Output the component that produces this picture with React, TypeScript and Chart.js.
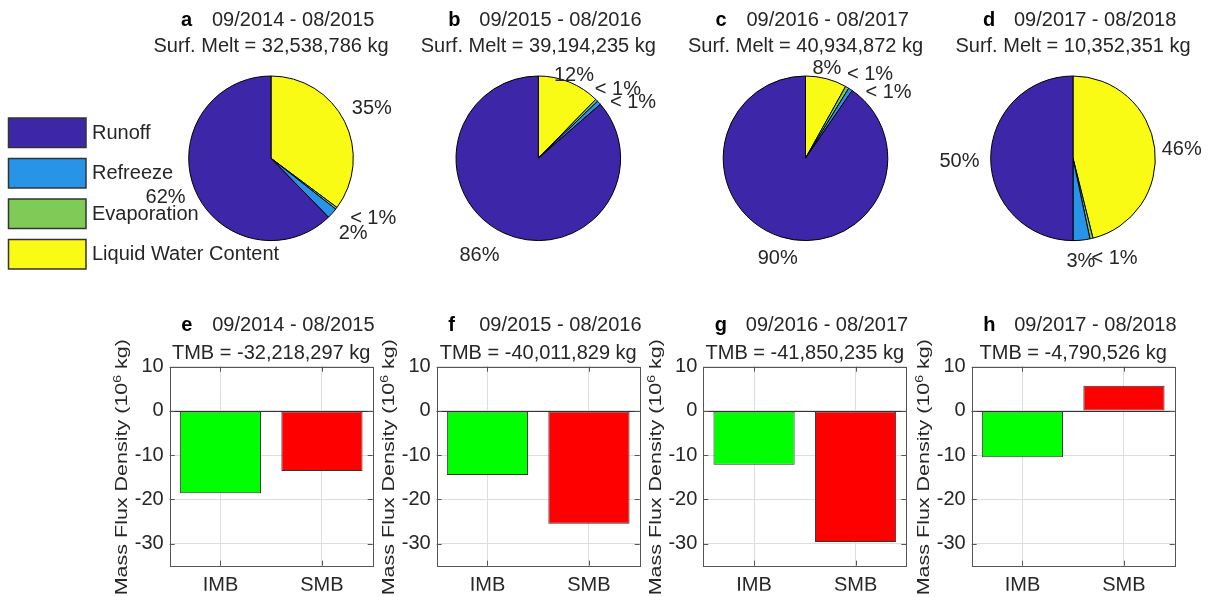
import React, { useEffect, useRef } from 'react';
import { Chart, registerables } from 'chart.js';

Chart.register(...registerables);

// ---------------- data ----------------
const periods = ['09/2014 - 08/2015', '09/2015 - 08/2016', '09/2016 - 08/2017', '09/2017 - 08/2018'];
const pieLetters = ['a', 'b', 'c', 'd'];
const barLetters = ['e', 'f', 'g', 'h'];
const pieCategories = ['Runoff', 'Refreeze', 'Evaporation', 'Liquid Water Content'];
const surfMelt = [32538786, 39194235, 40934872, 10352351];
const runoffPct = [62.3, 86.4, 90.4, 50.0];
const refreezePct = [2.1, 0.8, 0.8, 3.3];
const evaporationPct = [0.4, 0.5, 0.7, 0.6];
const lwcPct = [35.2, 12.3, 8.1, 46.1];
const barCategories = ['IMB', 'SMB'];
const imbValues = [-18.6, -14.5, -12.2, -10.5];
const smbValues = [-13.6, -25.5, -29.65, 5.7];
const tmbValues = [-32218297, -40011829, -41850235, -4790526];
const yMin = -35;
const yMax = 10;
const yStep = 10;

// ---------------- style / layout ----------------
const W = 1211;
const H = 597;
const FONT = '"Liberation Sans", Arial, Helvetica, sans-serif';
const TEXT = '#262626';
const GRID = '#dedede';
const AXIS = '#555555';
const pieColors: Record<string, string> = {
  Runoff: '#3E26A8',
  Refreeze: '#2894E8',
  Evaporation: '#80CB58',
  'Liquid Water Content': '#F9FB15',
};
const barColors = ['#00FF00', '#FF0000'];
const pieCx = [271, 538.3, 805.5, 1073];
const pieCy = 158.3;
const pieR = 82.3;
const barLeft = [169.7, 436.7, 703.3, 971.7];
const barWidth = 203;
const barTop = 366.7;
const barBottom = 565.7;
// label nudges per pie, in drawing order (LWC, Evaporation, Refreeze, Runoff)
const pieNudges = [
  [[2, -6], [12, 1], [4, 10], [-3, 2]],
  [[-6, 8], [-1, 0], [11, 10], [-13, 8]],
  [[-5, 5], [7, 0], [21, 16], [5, 7]],
  [[-1, 3], [16, 5], [-3, 6], [-3, 3]],
];

function drawTitle(ctx: CanvasRenderingContext2D, cx: number, y1: number, y2: number, letter: string, period: string, line2: string) {
  ctx.save();
  ctx.textBaseline = 'middle';
  ctx.textAlign = 'left';
  ctx.fillStyle = '#000';
  ctx.font = `bold 20px ${FONT}`;
  ctx.fillText(letter, cx - 90, y1);
  ctx.fillStyle = TEXT;
  ctx.font = `20px ${FONT}`;
  ctx.fillText(period, cx - 59, y1);
  ctx.textAlign = 'center';
  ctx.fillText(line2, cx, y2);
  ctx.restore();
}

const pieDecor = {
  id: 'pieDecor',
  afterDraw(chart: any, _args: any, opts: any) {
    const ctx: CanvasRenderingContext2D = chart.ctx;
    const meta = chart.getDatasetMeta(0);
    const data: number[] = chart.data.datasets[0].data;
    const total = data.reduce((a, b) => a + b, 0);
    ctx.save();
    ctx.font = `20px ${FONT}`;
    ctx.fillStyle = TEXT;
    ctx.textAlign = 'center';
    ctx.textBaseline = 'middle';
    meta.data.forEach((arc: any, i: number) => {
      const p = arc.getProps(['x', 'y', 'startAngle', 'endAngle', 'outerRadius'], true);
      const pct = (data[i] / total) * 100;
      const txt = pct < 1 ? '< 1%' : `${Math.round(pct)}%`;
      const mid = (p.startAngle + p.endAngle) / 2;
      const ux = Math.cos(mid);
      const uy = Math.sin(mid);
      const hw = ctx.measureText(txt).width / 2;
      const r = p.outerRadius * 1.1;
      const n = opts.nudges[i];
      ctx.fillText(txt, p.x + ux * (r + hw) + n[0], p.y + uy * r + uy * 7 + n[1]);
    });
    ctx.restore();
    drawTitle(ctx, opts.cx, 20, 46.5, opts.letter, opts.period, opts.line2);

    if (opts.legend) {
      const labels: string[] = chart.data.labels.slice().reverse();
      const colors: string[] = chart.data.datasets[0].backgroundColor.slice().reverse();
      ctx.save();
      ctx.font = `20px ${FONT}`;
      ctx.textBaseline = 'middle';
      ctx.textAlign = 'left';
      labels.forEach((lab, i) => {
        const top = 118 + i * 40.5;
        ctx.fillStyle = colors[i];
        ctx.fillRect(8.5, top, 77.5, 29.5);
        ctx.strokeStyle = '#333';
        ctx.lineWidth = 1.5;
        ctx.strokeRect(8.5, top, 77.5, 29.5);
        ctx.fillStyle = TEXT;
        ctx.fillText(lab, 92, top + 15);
      });
      ctx.restore();
    }
  },
};

const barDecor = {
  id: 'barDecor',
  beforeDatasetsDraw(chart: any) {
    const ctx: CanvasRenderingContext2D = chart.ctx;
    const { left, right } = chart.chartArea;
    const y0 = Math.round(chart.scales.y.getPixelForValue(0)) + 0.5;
    ctx.save();
    ctx.strokeStyle = '#333';
    ctx.lineWidth = 1;
    ctx.beginPath();
    ctx.moveTo(left, y0);
    ctx.lineTo(right, y0);
    ctx.stroke();
    ctx.restore();
  },
  afterDraw(chart: any, _args: any, opts: any) {
    const ctx: CanvasRenderingContext2D = chart.ctx;
    const { left, right, top, bottom } = chart.chartArea;
    const ys = chart.scales.y;
    const xs = chart.scales.x;
    ctx.save();
    ctx.strokeStyle = AXIS;
    ctx.lineWidth = 1;
    ctx.strokeRect(Math.round(left) + 0.5, Math.round(top) + 0.5, Math.round(right - left), Math.round(bottom - top));
    ctx.beginPath();
    ys.ticks.forEach((t: any) => {
      const py = Math.round(ys.getPixelForValue(t.value)) + 0.5;
      ctx.moveTo(left, py);
      ctx.lineTo(left + 5, py);
      ctx.moveTo(right - 5, py);
      ctx.lineTo(right, py);
    });
    xs.ticks.forEach((_t: any, i: number) => {
      const px = Math.round(xs.getPixelForValue(i)) + 0.5;
      ctx.moveTo(px, bottom);
      ctx.lineTo(px, bottom - 5);
      ctx.moveTo(px, top);
      ctx.lineTo(px, top + 5);
    });
    ctx.stroke();
    ctx.restore();

    const cx = (left + right) / 2;
    drawTitle(ctx, cx, 325, 353.3, opts.letter, opts.period, opts.line2);

    // y-axis title with superscript
    ctx.save();
    ctx.translate(left - 42.5, (top + bottom) / 2 + 1);
    ctx.rotate(-Math.PI / 2);
    ctx.scale(1, 0.77);
    const mainFont = `21.5px ${FONT}`;
    const supFont = `14px ${FONT}`;
    const p1 = 'Mass Flux Density (10';
    const p2 = '6';
    const p3 = ' kg)';
    ctx.font = mainFont;
    const w1 = ctx.measureText(p1).width;
    const w3 = ctx.measureText(p3).width;
    ctx.font = supFont;
    const w2 = ctx.measureText(p2).width;
    const x0 = -(w1 + w2 + w3) / 2;
    ctx.fillStyle = TEXT;
    ctx.textAlign = 'left';
    ctx.textBaseline = 'alphabetic';
    ctx.font = mainFont;
    ctx.fillText(p1, x0, 0);
    ctx.font = supFont;
    ctx.fillText(p2, x0 + w1, -8);
    ctx.font = mainFont;
    ctx.fillText(p3, x0 + w1 + w2, 0);
    ctx.restore();
  },
};

export default function App() {
  const refs = useRef<(HTMLCanvasElement | null)[]>([]);

  useEffect(() => {
    Chart.defaults.font.family = FONT;
    const charts: Chart[] = [];
    for (let i = 0; i < 4; i++) {
      const canvas = refs.current[i];
      if (!canvas) continue;
      const cx = pieCx[i];
      const order = [3, 2, 1, 0]; // clockwise from top: LWC, Evaporation, Refreeze, Runoff
      const values = [runoffPct[i], refreezePct[i], evaporationPct[i], lwcPct[i]];
      const labels = order.map((k) => pieCategories[k]);
      charts.push(
        new Chart(canvas, {
          type: 'pie',
          data: {
            labels,
            datasets: [
              {
                data: order.map((k) => values[k]),
                backgroundColor: labels.map((l) => pieColors[l]),
                borderColor: '#000',
                borderWidth: 1,
                radius: pieR,
              } as any,
            ],
          },
          options: {
            responsive: false,
            animation: false,
            devicePixelRatio: 1,
            events: [],
            radius: pieR,
            layout: {
              padding: { left: cx - 100, right: W - cx - 100, top: pieCy - 100, bottom: H - pieCy - 100 },
            },
            plugins: {
              legend: { display: false },
              tooltip: { enabled: false },
              pieDecor: {
                nudges: pieNudges[i],
                cx,
                letter: pieLetters[i],
                period: periods[i],
                line2: `Surf. Melt = ${surfMelt[i].toLocaleString('en-US')} kg`,
                legend: i === 0,
              },
            },
          } as any,
          plugins: [pieDecor],
        })
      );
    }
    for (let i = 0; i < 4; i++) {
      const canvas = refs.current[4 + i];
      if (!canvas) continue;
      const pl = barLeft[i];
      const pr = pl + barWidth;
      charts.push(
        new Chart(canvas, {
          type: 'bar',
          data: {
            labels: barCategories,
            datasets: [
              {
                data: [imbValues[i], smbValues[i]],
                backgroundColor: barColors,
                borderColor: '#333',
                borderWidth: 1,
                borderSkipped: false,
                barPercentage: 0.8,
                categoryPercentage: 1,
              },
            ],
          },
          options: {
            responsive: false,
            animation: false,
            devicePixelRatio: 1,
            events: [],
            layout: {
              padding: { left: pl - 60, right: W - pr, top: barTop, bottom: H - barBottom - 25 },
            },
            scales: {
              x: {
                afterFit: (s: any) => {
                  s.height = 25;
                },
                grid: { offset: false, color: GRID, drawTicks: false },
                border: { display: false },
                ticks: { padding: 8, color: TEXT, font: { size: 20, family: FONT } },
              },
              y: {
                min: yMin,
                max: yMax,
                afterFit: (s: any) => {
                  s.width = 60;
                },
                grid: { color: GRID, drawTicks: false },
                border: { display: false },
                ticks: { stepSize: yStep, includeBounds: false, padding: 6, color: TEXT, font: { size: 20, family: FONT } },
              },
            },
            plugins: {
              legend: { display: false },
              tooltip: { enabled: false },
              barDecor: {
                letter: barLetters[i],
                period: periods[i],
                line2: `TMB = ${tmbValues[i].toLocaleString('en-US')} kg`,
              },
            },
          } as any,
          plugins: [barDecor],
        })
      );
    }
    return () => charts.forEach((c) => c.destroy());
  }, []);

  return (
    <div style={{ position: 'absolute', left: 0, top: 0, width: W, height: H, background: '#fff', overflow: 'hidden' }}>
      {Array.from({ length: 8 }).map((_, i) => (
        <canvas
          key={i}
          ref={(el) => {
            refs.current[i] = el;
          }}
          width={W}
          height={H}
          style={{ position: 'absolute', left: 0, top: 0, width: W, height: H }}
        />
      ))}
    </div>
  );
}
